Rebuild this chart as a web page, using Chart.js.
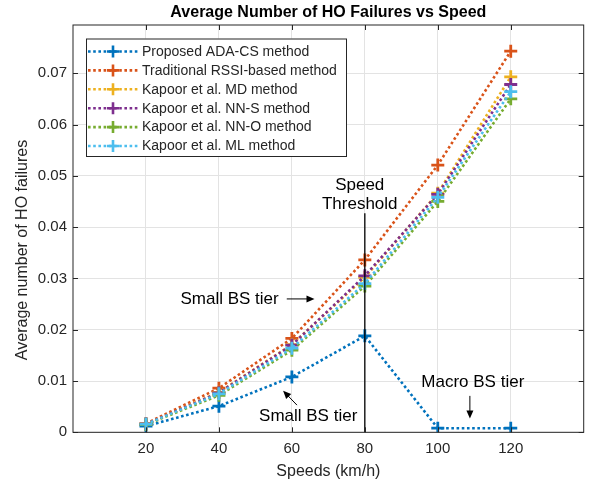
<!DOCTYPE html>
<html>
<head>
<meta charset="utf-8">
<script src="https://cdn.jsdelivr.net/npm/chart.js@4.4.1/dist/chart.umd.min.js"></script>
<style>
  html, body { margin: 0; padding: 0; background: #fff; }
  #wrap { width: 593px; height: 483px; }
</style>
</head>
<body>
<div id="wrap"><canvas id="grafico"></canvas></div>
<script>
// speeds (km/h) and average number of HO failures per method
const speeds = [20, 40, 60, 80, 100, 120];
const proposedAdaCs   = [0.0012, 0.0051, 0.0108, 0.0188, 0.0008, 0.0008];
const traditionalRssi = [0.0017, 0.0086, 0.0183, 0.0336, 0.0521, 0.0743];
const kapoorMd        = [0.0016, 0.0078, 0.0171, 0.0302, 0.0466, 0.0693];
const kapoorNnS       = [0.0016, 0.0077, 0.0170, 0.0305, 0.0464, 0.0678];
const kapoorNnO       = [0.0015, 0.0072, 0.0160, 0.0285, 0.0450, 0.0650];
const kapoorMl        = [0.0016, 0.0075, 0.0164, 0.0290, 0.0458, 0.0664];

const seriesNames = [
  'Proposed ADA-CS method',
  'Traditional RSSI-based method',
  'Kapoor et al. MD method',
  'Kapoor et al. NN-S method',
  'Kapoor et al. NN-O method',
  'Kapoor et al. ML method'
];
const seriesValues = [proposedAdaCs, traditionalRssi, kapoorMd, kapoorNnS, kapoorNnO, kapoorMl];
const seriesColors = ['#0072BD', '#D95319', '#EDB120', '#7E2F8E', '#77AC30', '#4DBEEE'];

const xTicks = [20, 40, 60, 80, 100, 120];
const yTicks = [0, 0.01, 0.02, 0.03, 0.04, 0.05, 0.06, 0.07];

const fonte = 'Liberation Sans, Arial, Helvetica, sans-serif';
const titulo = 'Average Number of HO Failures vs Speed';

// anotações em coordenadas de dados
const speedThreshold = 80;
const thresholdTop = 0.0427;
const textNotes = [
  { lines: ['Speed', 'Threshold'], x: 78.6, y: 0.0481, align: 'center' },
  { lines: ['Small BS tier'], x: 56.4, y: 0.0260, align: 'right' },
  { lines: ['Small BS tier'], x: 51.0, y: 0.0032, align: 'left' },
  { lines: ['Macro BS tier'], x: 109.6, y: 0.0097, align: 'center' }
];
const arrows = [
  { from: [58.6, 0.0260], to: [66.2, 0.0260] },
  { from: [61.4, 0.0053], to: [57.6, 0.0081] },
  { from: [108.8, 0.0071], to: [108.8, 0.0027] }
];

function desenhaSeta(ctx, x1, y1, x2, y2) {
  const ang = Math.atan2(y2 - y1, x2 - x1);
  const len = 8, half = 3.5;
  ctx.beginPath();
  ctx.moveTo(x1, y1);
  ctx.lineTo(x2 - Math.cos(ang) * len * 0.8, y2 - Math.sin(ang) * len * 0.8);
  ctx.stroke();
  ctx.beginPath();
  ctx.moveTo(x2, y2);
  ctx.lineTo(x2 - Math.cos(ang) * len - Math.sin(ang) * half, y2 - Math.sin(ang) * len + Math.cos(ang) * half);
  ctx.lineTo(x2 - Math.cos(ang) * len + Math.sin(ang) * half, y2 - Math.sin(ang) * len - Math.cos(ang) * half);
  ctx.closePath();
  ctx.fill();
}

const moldura = {
  id: 'moldura',
  afterDatasetsDraw(chart) {
    const { ctx, chartArea: a, scales: { x, y } } = chart;
    ctx.save();

    // título centrado na área do gráfico
    ctx.fillStyle = '#000';
    ctx.font = 'bold 16px ' + fonte;
    ctx.textAlign = 'center';
    ctx.textBaseline = 'middle';
    ctx.fillText(titulo, (a.left + a.right) / 2, 12.5);

    // linha do limiar de velocidade
    ctx.strokeStyle = '#000';
    ctx.lineWidth = 1.3;
    ctx.beginPath();
    ctx.moveTo(x.getPixelForValue(speedThreshold), y.getPixelForValue(0));
    ctx.lineTo(x.getPixelForValue(speedThreshold), y.getPixelForValue(thresholdTop));
    ctx.stroke();

    // textos e setas
    ctx.font = '17px ' + fonte;
    textNotes.forEach(n => {
      ctx.textAlign = n.align;
      n.lines.forEach((t, i) => ctx.fillText(t, x.getPixelForValue(n.x), y.getPixelForValue(n.y) + i * 19));
    });
    ctx.lineWidth = 1;
    arrows.forEach(s => desenhaSeta(ctx,
      x.getPixelForValue(s.from[0]), y.getPixelForValue(s.from[1]),
      x.getPixelForValue(s.to[0]), y.getPixelForValue(s.to[1])));

    // caixa dos eixos com marcas internas
    ctx.strokeStyle = '#262626';
    ctx.lineWidth = 1;
    ctx.strokeRect(a.left, a.top, a.width, a.height);
    ctx.beginPath();
    xTicks.forEach(v => {
      const px = Math.round(x.getPixelForValue(v)) + 0.5;
      ctx.moveTo(px, a.bottom); ctx.lineTo(px, a.bottom - 5);
      ctx.moveTo(px, a.top); ctx.lineTo(px, a.top + 5);
    });
    yTicks.forEach(v => {
      const py = Math.round(y.getPixelForValue(v)) + 0.5;
      ctx.moveTo(a.left, py); ctx.lineTo(a.left + 5, py);
      ctx.moveTo(a.right, py); ctx.lineTo(a.right - 5, py);
    });
    ctx.stroke();

    // legenda
    const lx = 86, ly = 38.5, lw = 260, lh = 117.5, row = 18.9;
    ctx.fillStyle = '#fff';
    ctx.fillRect(lx, ly, lw, lh);
    ctx.strokeStyle = '#262626';
    ctx.strokeRect(lx + 0.5, ly + 0.5, lw, lh);
    ctx.font = '14px ' + fonte;
    ctx.textAlign = 'left';
    seriesNames.forEach((nome, i) => {
      const cy = ly + 13 + i * row;
      ctx.strokeStyle = seriesColors[i];
      ctx.lineWidth = 2.6;
      ctx.setLineDash([2.6, 2.6]);
      ctx.beginPath(); ctx.moveTo(88, cy); ctx.lineTo(138, cy); ctx.stroke();
      ctx.setLineDash([]);
      ctx.beginPath();
      ctx.moveTo(107, cy); ctx.lineTo(119, cy);
      ctx.moveTo(113, cy - 6); ctx.lineTo(113, cy + 6);
      ctx.stroke();
      ctx.fillStyle = '#262626';
      ctx.fillText(nome, 142, cy + 0.5);
    });

    // rótulo do eixo y
    ctx.save();
    ctx.translate(23, 250);
    ctx.rotate(-Math.PI / 2);
    ctx.textAlign = 'center';
    ctx.fillStyle = '#262626';
    ctx.font = '16px ' + fonte;
    ctx.fillText('Average number of HO failures', 0, 0);
    ctx.restore();

    ctx.restore();
  }
};

const ctx = document.getElementById('grafico').getContext('2d');
new Chart(ctx, {
  type: 'line',
  data: {
    datasets: seriesNames.map((nome, i) => ({
      label: nome,
      data: speeds.map((s, k) => ({ x: s, y: seriesValues[i][k] })),
      borderColor: seriesColors[i],
      backgroundColor: seriesColors[i],
      borderWidth: 2.6,
      borderDash: [2.6, 2.6],
      borderCapStyle: 'butt',
      tension: 0,
      pointStyle: 'cross',
      pointRadius: 6.5,
      pointHoverRadius: 6.5,
      pointBorderWidth: 2.8,
      fill: false,
      order: seriesNames.length - i
    }))
  },
  options: {
    responsive: true,
    maintainAspectRatio: false,
    animation: false,
    layout: { padding: { left: 0, right: 6.3, top: 25, bottom: 0 } },
    plugins: {
      legend: { display: false },
      tooltip: { enabled: false },
      title: { display: false }
    },
    scales: {
      x: {
        type: 'linear',
        min: 0,
        max: 140,
        afterFit: s => { s.height = 50.7; s.paddingLeft = 0; s.paddingRight = 0; },
        afterBuildTicks: s => { s.ticks = xTicks.map(v => ({ value: v })); },
        grid: { color: '#e3e3e3', drawTicks: false },
        border: { display: false },
        ticks: { color: '#262626', padding: 8, font: { family: fonte, size: 15 }, maxRotation: 0 },
        title: {
          display: true,
          text: 'Speeds (km/h)',
          color: '#262626',
          font: { family: fonte, size: 16 },
          padding: { top: 0, bottom: 1.4 }
        }
      },
      y: {
        type: 'linear',
        min: 0,
        max: 0.0794,
        afterFit: s => { s.width = 73; s.paddingTop = 0; s.paddingBottom = 0; },
        afterBuildTicks: s => { s.ticks = yTicks.map(v => ({ value: v })); },
        grid: { color: '#e3e3e3', drawTicks: false },
        border: { display: false },
        ticks: {
          color: '#262626',
          padding: 6,
          font: { family: fonte, size: 15 },
          callback: v => v === 0 ? '0' : v.toFixed(2)
        }
      }
    }
  },
  plugins: [moldura]
});
</script>
</body>
</html>
